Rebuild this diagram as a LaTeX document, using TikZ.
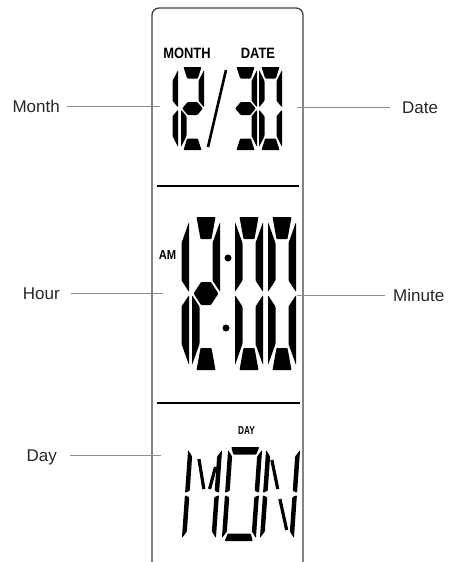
\documentclass[tikz,border=0pt]{standalone}
\usepackage{fontspec}
\setmainfont{Liberation Sans}
\newfontfamily\lcdfont{Liberation Sans}[FakeStretch=0.86]
\newfontfamily\lcdfontn{Liberation Sans}[FakeStretch=0.72]
% segment geometry
\newcommand\Dsize[7]{\def\Dw{#1}\def\Dh{#2}\def\Dt{#3}\def\Dtt{#4}\def\Dhm{#5}\def\Dk{#6}\def\Dg{#7}}
\newcommand\Dends[3]{\def\Dkb{#1}\def\Dbo{#2}\def\Dbi{#3}}
\newcommand\Dcell[2]{\def\Dx{#1}\def\Dy{#2}}
\newcommand\sA{\fill[seg] ({\Dx+\Dk},{\Dy}) -- ({\Dx+\Dw-\Dk},{\Dy}) -- ({\Dx+\Dw-\Dkb},{\Dy+\Dtt}) -- ({\Dx+\Dkb},{\Dy+\Dtt}) -- cycle;}
\newcommand\sD{\fill[seg] ({\Dx+\Dk},{\Dy+\Dh}) -- ({\Dx+\Dw-\Dk},{\Dy+\Dh}) -- ({\Dx+\Dw-\Dkb},{\Dy+\Dh-\Dtt}) -- ({\Dx+\Dkb},{\Dy+\Dh-\Dtt}) -- cycle;}
\newcommand\sF{\fill[seg] ({\Dx},{\Dy+\Dbo}) -- ({\Dx+\Dt},{\Dy+\Dbi}) -- ({\Dx+\Dt},{\Dy+\Dh/2-\Dhm/2-\Dg}) -- ({\Dx},{\Dy+\Dh/2-\Dg}) -- cycle;}
\newcommand\sB{\fill[seg] ({\Dx+\Dw},{\Dy+\Dbo}) -- ({\Dx+\Dw-\Dt},{\Dy+\Dbi}) -- ({\Dx+\Dw-\Dt},{\Dy+\Dh/2-\Dhm/2-\Dg}) -- ({\Dx+\Dw},{\Dy+\Dh/2-\Dg}) -- cycle;}
\newcommand\sE{\fill[seg] ({\Dx},{\Dy+\Dh-\Dbo}) -- ({\Dx+\Dt},{\Dy+\Dh-\Dbi}) -- ({\Dx+\Dt},{\Dy+\Dh/2+\Dhm/2+\Dg}) -- ({\Dx},{\Dy+\Dh/2+\Dg}) -- cycle;}
\newcommand\sC{\fill[seg] ({\Dx+\Dw},{\Dy+\Dh-\Dbo}) -- ({\Dx+\Dw-\Dt},{\Dy+\Dh-\Dbi}) -- ({\Dx+\Dw-\Dt},{\Dy+\Dh/2+\Dhm/2+\Dg}) -- ({\Dx+\Dw},{\Dy+\Dh/2+\Dg}) -- cycle;}
\newcommand\sG{\fill[seg] ({\Dx+\Dg},{\Dy+\Dh/2}) -- ({\Dx+\Dt+\Dg},{\Dy+\Dh/2-\Dhm/2}) -- ({\Dx+\Dw-\Dt-\Dg},{\Dy+\Dh/2-\Dhm/2}) -- ({\Dx+\Dw-\Dg},{\Dy+\Dh/2}) -- ({\Dx+\Dw-\Dt-\Dg},{\Dy+\Dh/2+\Dhm/2}) -- ({\Dx+\Dt+\Dg},{\Dy+\Dh/2+\Dhm/2}) -- cycle;}
\tikzset{
  seg/.style={fill=black, rounded corners=0.8pt},
  diagseg/.style={line width=3.2pt, line cap=butt},
  leader/.style={draw=black!45, line width=0.9pt},
  panel/.style={draw=black!75, line width=1.3pt},
  lbl/.style={font=\fontsize{17}{20}\selectfont, text=black!85, inner sep=0pt},
  lcdlbl/.style={font=\lcdfont\bfseries\fontsize{15}{15}\selectfont, inner sep=0pt},
}
\begin{document}
\begin{tikzpicture}[x=1pt,y=-1pt]
\useasboundingbox (0,0) rectangle (457,562);
% panel
\draw[panel, rounded corners=7pt] (152,563) -- (152,8) -- (303,8) -- (303,563);
\draw[draw=black, line width=1.2pt] (157,186) -- (299,186);
\draw[draw=black, line width=1.2pt] (157,403) -- (300,403);
% LCD labels
\node[lcdlbl] (monthlbl) at (187,53) {MONTH};
\node[lcdlbl] (datelbl) at (258,53) {DATE};
\node[lcdlbl, font=\lcdfont\bfseries\fontsize{13}{13}\selectfont] (amlbl) at (167.5,255) {AM};
\node[lcdlbl, font=\lcdfontn\bfseries\fontsize{11.5}{12}\selectfont] (daylbl) at (246.5,431) {DAY};
% date row 12/30
\Dsize{23}{83}{5.5}{11.5}{13}{2.5}{1.2}
\Dends{6.2}{3}{14}
\Dcell{155}{67}\sB\sC
\Dcell{181}{67}\sA\sB\sG\sE\sD
\Dcell{234}{67}\sA\sB\sG\sC\sD
\Dcell{259}{67}\sA\sB\sC\sD\sE\sF
\draw[line width=2.6pt] (226,70) -- (208,147);
% clock row 12:00
\Dsize{28}{153}{7.5}{22}{23}{4.5}{1.6}
\Dends{8.5}{5}{26}
\Dcell{161}{217}\sB\sC
\Dcell{192}{217}\sA\sB\sG\sE\sD
\Dcell{235}{217}\sA\sB\sC\sD\sE\sF
\Dcell{268}{217}\sA\sB\sC\sD\sE\sF
\fill (228,258) circle (3.5);
\fill (226,328) circle (3.5);
% day row MON
\begin{scope}[shift={(0,494)}, xslant=0.07]
\Dsize{34}{94}{4.5}{7.5}{4}{3}{1.2}
\Dends{5.5}{3}{9.5}
\Dcell{185}{-47}\sF\sE\sB\sC
\draw[diagseg] (196.5,-35) -- (203.5,-5);
\draw[diagseg] (209.2,-5) -- (213.6,-27);
\Dcell{225}{-47}\sA\sB\sC\sD\sE\sF
\Dcell{263}{-47}\sF\sE\sB\sC
\draw[diagseg] (269.5,-34) -- (277.4,-5);
\draw[diagseg] (280.2,5) -- (289.2,36);
\end{scope}
% callouts
\node[lbl, anchor=base east] (month) at (60,112) {Month};
\coordinate (monthEnd) at (160,106);
\draw[leader, shorten <=7pt] (month.east |- monthEnd) -- (monthEnd);
\node[lbl, anchor=base west] (date) at (402,113) {Date};
\coordinate (dateEnd) at (297,107);
\draw[leader, shorten <=12pt] (date.west |- dateEnd) -- (dateEnd);
\node[lbl, anchor=base east] (hour) at (60,299) {Hour};
\coordinate (hourEnd) at (163,293);
\draw[leader, shorten <=11pt] (hour.east |- hourEnd) -- (hourEnd);
\node[lbl, anchor=base west] (minute) at (393,301) {Minute};
\coordinate (minuteEnd) at (297,295);
\draw[leader, shorten <=8pt] (minute.west |- minuteEnd) -- (minuteEnd);
\node[lbl, anchor=base east] (day) at (57,461) {Day};
\coordinate (dayEnd) at (161,455);
\draw[leader, shorten <=13pt] (day.east |- dayEnd) -- (dayEnd);
\end{tikzpicture}
\end{document}
